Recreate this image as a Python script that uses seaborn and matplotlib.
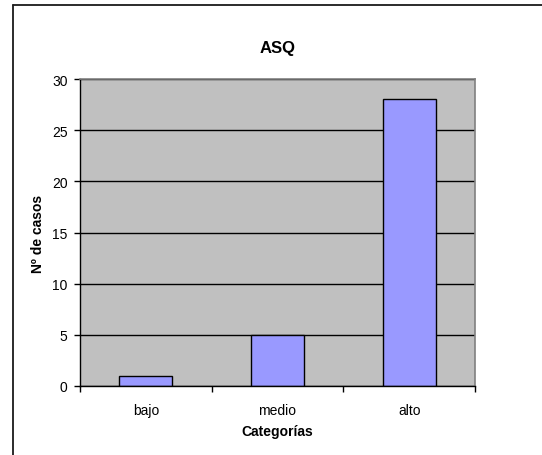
import matplotlib
matplotlib.use("Agg")
import matplotlib.pyplot as plt
from matplotlib.lines import Line2D
import seaborn as sns

categorias = ["bajo", "medio", "alto"]
casos = [1, 5, 28]
yticks = [0, 5, 10, 15, 20, 25, 30]

sns.set_style("white")
plt.rcParams["font.family"] = ["Liberation Sans", "DejaVu Sans"]
plt.rcParams.update({"text.color": "black", "axes.labelcolor": "black",
                     "xtick.color": "black", "ytick.color": "black",
                     "xtick.labelcolor": "black", "ytick.labelcolor": "black"})

W, H = 542, 456
fig = plt.figure(figsize=(W / 100, H / 100), dpi=100)
fig.patch.set_facecolor("white")

# plot area in pixel units
x0, x1, y0, y1 = 80, 475, 80, 387
ax = fig.add_axes([x0 / W, (H - y1) / H, (x1 - x0) / W, (y1 - y0) / H])
ax.set_facecolor("#C0C0C0")

sns.barplot(x=categorias, y=casos, color="#9999FF", saturation=1,
            edgecolor="black", linewidth=1.0, width=0.4, ax=ax)

ax.set_xlim(-0.5, 2.5)
ax.set_ylim(0, 30)
ax.set_yticks(yticks)
ax.set_axisbelow(True)
ax.yaxis.grid(True, color="black", linewidth=1.0)
ax.xaxis.grid(False)

for side in ["top", "right"]:
    ax.spines[side].set_color("#808080")
    ax.spines[side].set_linewidth(1.2)
for side in ["left", "bottom"]:
    ax.spines[side].set_color("black")
    ax.spines[side].set_linewidth(1.0)

ax.tick_params(axis="y", which="major", direction="out", length=4, width=1,
               color="black", labelcolor="black", labelsize=10, pad=5, left=True)
ax.tick_params(axis="x", which="major", length=0, labelsize=10, pad=12,
               labelcolor="black")
ax.set_xticks([-0.5, 0.5, 1.5, 2.5], minor=True)
ax.tick_params(axis="x", which="minor", direction="out", length=4, width=1,
               color="black", bottom=True)

ax.set_xlabel("Categorías", fontsize=10, fontweight="bold", color="black")
ax.set_ylabel("Nº de casos", fontsize=10, fontweight="bold", color="black")
ax.xaxis.set_label_coords(0.5, (y1 - 432) / (y1 - y0))
ax.yaxis.set_label_coords((38 - x0) / (x1 - x0), 0.5)
ax.yaxis.label.set_verticalalignment("center")
ax.xaxis.label.set_verticalalignment("center")

ax.text(0.5, (y1 - 48) / (y1 - y0), "ASQ", transform=ax.transAxes,
        ha="center", va="center", fontsize=12, fontweight="bold", color="black")

# chart frame (top and left edges)
fig.add_artist(Line2D([12.5 / W, 1.0], [1 - 5.5 / H, 1 - 5.5 / H],
                      transform=fig.transFigure, color="#1a1a1a", linewidth=1.3))
fig.add_artist(Line2D([12.5 / W, 12.5 / W], [0.0, 1 - 5.5 / H],
                      transform=fig.transFigure, color="#1a1a1a", linewidth=1.3))

fig.savefig("out.png", dpi=100)
